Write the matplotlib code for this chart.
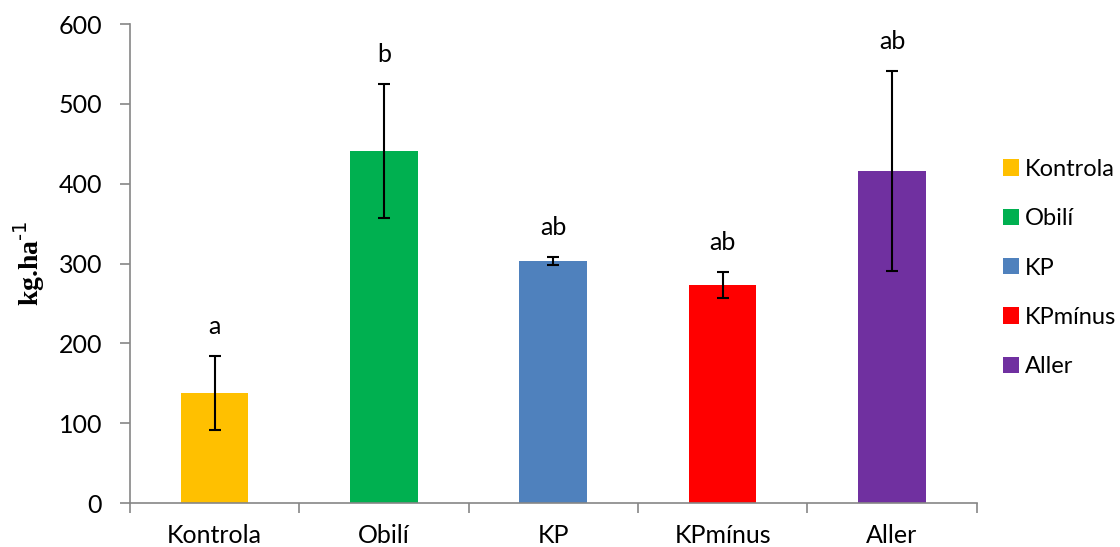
import matplotlib
matplotlib.use("Agg")
import matplotlib.pyplot as plt
from matplotlib.patches import Patch

categories = ['Kontrola', 'Obilí', 'KP', 'KPmínus', 'Aller']
means = [138, 441, 303, 273, 416]
errors = [46, 84, 5, 16, 125]
letters = ['a', 'b', 'ab', 'ab', 'ab']
colors = ['#FFC000', '#00B050', '#4F81BD', '#FF0000', '#7030A0']

plt.rcParams['font.family'] = ['Lato', 'DejaVu Sans']
axis_gray = '#868686'
fs = 18

fig = plt.figure(figsize=(11.2, 5.47), dpi=100)
ax = fig.add_axes([0.116, 0.0804, 0.756, 0.8756])

x = list(range(len(categories)))
ax.bar(x, means, width=0.4, color=colors, zorder=2)
ax.errorbar(x, means, yerr=errors, fmt='none', ecolor='black',
            elinewidth=1.5, capsize=4.5, capthick=1.5, zorder=3)

# significance letters sit a fixed distance above each error cap
for xi, m, e, lab in zip(x, means, errors, letters):
    ax.annotate(lab, (xi, m + e), xytext=(0, 16), textcoords='offset points',
                ha='center', va='baseline', fontsize=fs)

ax.set_xlim(-0.5, len(categories) - 0.5)
ax.set_ylim(0, 600)
ax.set_yticks(range(0, 601, 100))
ax.set_xticks(x)
ax.set_xticklabels(categories, fontsize=fs)
ax.tick_params(axis='x', length=0, pad=15)
ax.tick_params(axis='y', labelsize=fs, length=7, width=1.2, color=axis_gray, pad=13)

# category separators below the x axis
ax.set_xticks([i - 0.5 for i in range(len(categories) + 1)], minor=True)
ax.tick_params(axis='x', which='minor', length=7, width=1.2, color=axis_gray)

for side in ('top', 'right'):
    ax.spines[side].set_visible(False)
for side in ('left', 'bottom'):
    ax.spines[side].set_color(axis_gray)
    ax.spines[side].set_linewidth(1.2)

ax.set_ylabel(r'kg.ha$^{\text{-1}}$', family='Liberation Serif',
              fontweight='bold', fontsize=20, labelpad=8)

handles = [Patch(facecolor=c, edgecolor='none') for c in colors]
fig.legend(handles, categories, loc='center left', bbox_to_anchor=(0.8955, 0.51),
           frameon=False, fontsize=17, handlelength=0.68, handleheight=0.68,
           handletextpad=0.25, labelspacing=1.2, borderaxespad=0, borderpad=0)

fig.savefig('out.png', dpi=100)
